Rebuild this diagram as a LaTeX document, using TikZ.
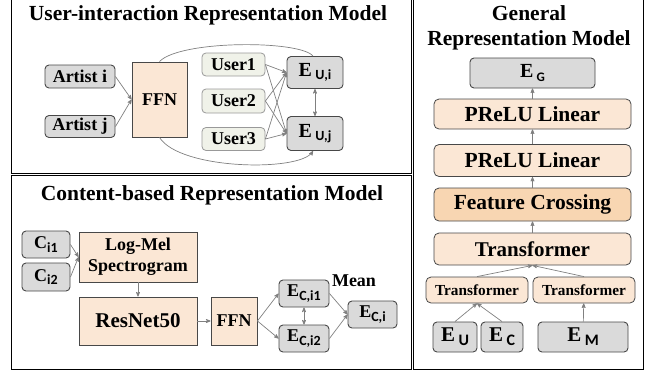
\documentclass[tikz,border=0pt]{standalone}
\usepackage{fontspec}
\setmainfont{Liberation Serif}
\newfontfamily\subfont{Carlito}
\usetikzlibrary{arrows}

\definecolor{boxgray}{RGB}{218,218,218}
\definecolor{usergreen}{RGB}{240,242,233}
\definecolor{peach}{RGB}{251,231,213}
\definecolor{peachdark}{RGB}{248,214,178}
\definecolor{linegray}{RGB}{128,128,128}
\definecolor{edgegray}{RGB}{72,72,72}

\newcommand{\esub}[3][13]{#2{\subfont\bfseries\fontsize{#1}{#1}\selectfont\raisebox{-0.5ex}{#3}}}

\begin{document}
\begin{tikzpicture}[x=1pt,y=-1pt,
 panel/.style={draw=black,line width=1pt},
 title/.style={font=\fontsize{21.5}{25}\selectfont\bfseries,align=center,anchor=base,inner sep=0},
 gbox/.style={draw=edgegray,fill=boxgray,rounded corners=4pt,line width=0.9pt,inner sep=0,
              font=\fontsize{18}{20}\selectfont\bfseries},
 ubox/.style={draw=linegray!80,fill=usergreen,rounded corners=4pt,line width=0.8pt,inner sep=0,
              font=\fontsize{18}{20}\selectfont\bfseries},
 pbox/.style={draw=edgegray,fill=peach,line width=0.9pt,inner sep=0,
              font=\fontsize{18}{21}\selectfont\bfseries,align=center},
 rbox/.style={draw=edgegray,fill=peach,rounded corners=5pt,line width=0.8pt,inner sep=0,
              minimum width=197,font=\fontsize{21.5}{24}\selectfont\bfseries},
 conn/.style={draw=linegray,line width=0.7pt,->,>=stealth'}]

\useasboundingbox (0,0) rectangle (651,373);

\draw[panel] (11,-2) rectangle (411,173);
\draw[panel] (11,175) rectangle (411,369);
\draw[panel] (413,-2) rectangle (643,369);

\node[title] (t1) at (208,20) {User-interaction Representation Model};
\node[title] (t2) at (212,200) {Content-based Representation Model};
\node[title] (t3) at (529,45) {General\\Representation Model};

\node[gbox,minimum width=70,minimum height=23] (ai) at (80,76.5) {Artist i};
\node[gbox,minimum width=70,minimum height=22] (aj) at (80,126.5) {Artist j};
\node[pbox,minimum width=55,minimum height=75] (ffna) at (159.5,99.5) {FFN};
\node[ubox,minimum width=63,minimum height=23] (u1) at (233.5,64.5) {User1};
\node[ubox,minimum width=63,minimum height=24] (u2) at (233.5,101) {User2};
\node[ubox,minimum width=63,minimum height=23] (u3) at (233.5,139) {User3};
\node[gbox,minimum width=56,minimum height=32,font=\fontsize{20}{20}\selectfont\bfseries]
     (eui) at (315,72.5) {\esub[14]{E\,}{U,i}};
\node[gbox,minimum width=56,minimum height=34,font=\fontsize{20}{20}\selectfont\bfseries]
     (euj) at (315,133.5) {\esub[14]{E\,}{U,j}};

\draw[conn] (ai.east) -- (ffna.west);
\draw[conn] (aj.east) -- (ffna.west);
\foreach \u in {u1,u2,u3}{
  \draw[conn] (\u.east) -- (eui.west);
  \draw[conn] (\u.east) -- (euj.west);
}
\draw[conn,<->] (eui) -- (euj);
\draw[linegray,line width=0.7pt] (ffna.north) .. controls (180,40) and (300,40) .. ([xshift=-2pt]eui.north);
\draw[conn] (ffna.south) .. controls (180,170) and (300,172) .. ([xshift=-2pt]euj.south);

\node[gbox,minimum width=48,minimum height=27] (ci1) at (46,244.5) {\esub[14]{C}{i1}};
\node[gbox,minimum width=48,minimum height=28] (ci2) at (46,277) {\esub[14]{C}{i2}};
\node[pbox,minimum width=118,minimum height=50] (lm) at (138,257) {Log-Mel\\Spectrogram};
\node[pbox,minimum width=118,minimum height=48,font=\fontsize{21}{24}\selectfont\bfseries]
     (rn) at (138,321) {ResNet50};
\node[pbox,minimum width=46,minimum height=48] (ffnb) at (234,321) {FFN};
\node[gbox,minimum width=50,minimum height=27] (eci1) at (304,293.5) {\esub[14]{E}{C,i1}};
\node[gbox,minimum width=50,minimum height=27] (eci2) at (304,338.5) {\esub[14]{E}{C,i2}};
\node[gbox,minimum width=49,minimum height=27] (eci) at (372.5,314.5) {\esub[14]{E}{C,i}};
\node[font=\fontsize{18}{20}\selectfont\bfseries,inner sep=0] (mean) at (354,281) {Mean};

\draw[conn] (ci1.east) -- (lm.west);
\draw[conn] (ci2.east) -- (lm.west);
\draw[conn] (lm) -- (rn);
\draw[conn] (rn) -- (ffnb);
\draw[conn] (ffnb.east) -- (eci1.west);
\draw[conn] (ffnb.east) -- (eci2.west);
\draw[conn,<->] (eci1) -- (eci2);
\draw[conn] (eci1.east) -- (eci.west);
\draw[conn] (eci2.east) -- (eci.west);

\node[gbox,minimum width=125,minimum height=30,font=\fontsize{20}{20}\selectfont\bfseries]
     (eg) at (532.5,73) {\esub{E\,}{G}};
\node[rbox,minimum height=30] (pl1) at (532.5,114) {PReLU Linear};
\node[rbox,minimum height=32] (pl2) at (532.5,160.5) {PReLU Linear};
\node[rbox,minimum height=33,fill=peachdark] (fc) at (532.5,204.5) {Feature Crossing};
\node[rbox,minimum height=32,font=\fontsize{21}{24}\selectfont\bfseries] (tr) at (532.5,249) {Transformer};
\node[rbox,minimum width=102,minimum height=26,font=\fontsize{15.3}{18}\selectfont\bfseries]
     (trl) at (477,290) {Transformer};
\node[rbox,minimum width=102,minimum height=26,font=\fontsize{15.3}{18}\selectfont\bfseries]
     (trr) at (584,290) {Transformer};
\node[gbox,minimum width=44,minimum height=30,font=\fontsize{21}{21}\selectfont\bfseries]
     (eu) at (455,337) {\esub[16]{E\,}{U}};
\node[gbox,minimum width=42,minimum height=30,font=\fontsize{21}{21}\selectfont\bfseries]
     (ec) at (502,337) {\esub[16]{E\,}{C}};
\node[gbox,minimum width=90,minimum height=30,font=\fontsize{21}{21}\selectfont\bfseries]
     (em) at (583,337) {\esub[16]{E\,}{M}};

\draw[conn] (eu.north) -- (trl.south);
\draw[conn] (ec.north) -- (trl.south);
\draw[conn] (em) -- (trr);
\draw[conn] (trl.north) -- (tr.south);
\draw[conn] (trr.north) -- (tr.south);
\draw[conn] (tr) -- (fc);
\draw[conn] (fc) -- (pl2);
\draw[conn] (pl2) -- (pl1);
\draw[conn] (pl1) -- (eg);
\end{tikzpicture}
\end{document}
